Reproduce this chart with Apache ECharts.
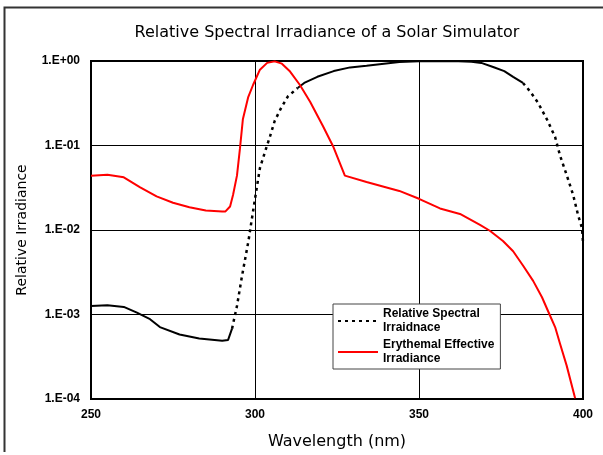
<!DOCTYPE html>
<html style="height: 100%">
<head>
<meta charset="utf-8">
</head>
<body style="height: 100%; margin: 0; width: 100%; background: #fff;">
<div id="container" style="height: 455px; width: 603px;"></div>
<script src="https://cdn.jsdelivr.net/npm/echarts@6/dist/echarts.min.js"></script>
<script type="text/javascript">
// wavelength (nm) and relative values
var blackWl = [250, 255, 260, 264, 268, 271, 277, 283, 290, 291.8, 293, 294.5, 296, 298, 299, 300, 301.5, 303, 304.6, 306,
    308, 310, 313, 315, 319, 324, 329, 334, 344, 350, 360, 366, 369, 372.6, 376, 378.7, 381.7, 383.8, 386.3, 389,
    391.5, 393, 395, 397, 398.5, 399.7, 400];
var blackVal = [0.00126, 0.00129, 0.00123, 0.00105, 0.00088, 0.00071, 0.00058, 0.00052, 0.00049, 0.0005, 0.00068, 0.00126, 0.0028, 0.0074, 0.0132, 0.0234, 0.054, 0.083, 0.129, 0.195,
    0.28, 0.38, 0.48, 0.55, 0.65, 0.76, 0.84, 0.88, 0.97, 0.99, 1.0, 0.98, 0.95, 0.85, 0.76, 0.65, 0.55, 0.44, 0.32, 0.204,
    0.126, 0.076, 0.045, 0.026, 0.015, 0.0105, 0.0072];

var redWl = [250, 255, 260, 265, 270, 275, 280, 285, 290, 291, 292.4, 293.3, 294.5, 295.4, 296.3, 297.9, 299.4, 301.5, 303.7, 306,
    308.2, 310.7, 313.7, 316.8, 320.7, 323.8, 327.4, 328, 334, 344, 350, 356.4, 362.5, 368.6, 371.6, 375.6, 378.7, 381.7, 384.8, 387.5,
    389.9, 391.5, 393, 395, 397.6];
var redVal = [0.044, 0.045, 0.042, 0.032, 0.025, 0.021, 0.0186, 0.017, 0.0166, 0.0166, 0.019, 0.026, 0.044, 0.091, 0.204, 0.37, 0.52, 0.79, 0.95, 0.99,
    0.93, 0.75, 0.52, 0.33, 0.17, 0.098, 0.044, 0.043, 0.037, 0.029, 0.0234, 0.018, 0.0155, 0.0115, 0.0098, 0.0074, 0.0056, 0.0038, 0.0025, 0.0016,
    0.00098, 0.00071, 0.00045, 0.00025, 0.000102];

var xTicks = [250, 300, 350, 400];

// steep parts of the black curve show up dashed, flat parts solid
function isDashed(w) { return (w >= 293 && w <= 313) || w >= 381.7; }
function isSolid(w) { return w <= 293 || (w >= 313 && w <= 381.7); }

var dashedData = blackWl.map(function (w, i) { return [w, isDashed(w) ? blackVal[i] : null]; });
var solidData = blackWl.map(function (w, i) { return [w, isSolid(w) ? blackVal[i] : null]; });
var redData = redWl.map(function (w, i) { return [w, redVal[i]]; });

var dom = document.getElementById("container");
var myChart = echarts.init(dom, null, {renderer: 'canvas'});

var option = {
    animation: false,
    backgroundColor: '#fff',
    title: {
        text: 'Relative Spectral Irradiance of a Solar Simulator',
        left: 322,
        top: 20,
        textAlign: 'center',
        textStyle: {fontFamily: 'DejaVu Sans', fontSize: 16, fontWeight: 'normal', color: '#000'}
    },
    graphic: [{
        type: 'polyline',
        silent: true,
        shape: {points: [[4.5, 452], [4.5, 7.5], [603, 7.5]]},
        style: {stroke: '#333', lineWidth: 2, fill: null}
    }],
    grid: {
        left: 91, right: 20, top: 61, bottom: 52,
        show: true, borderColor: '#000', borderWidth: 2, backgroundColor: 'transparent'
    },
    legend: {
        orient: 'vertical',
        left: 333,
        top: 304,
        padding: [3, 6, 3, 4],
        itemGap: 3,
        itemWidth: 40,
        itemHeight: 12,
        backgroundColor: '#fff',
        borderColor: '#444',
        borderWidth: 1,
        borderRadius: 0,
        itemStyle: {color: 'transparent', borderWidth: 0, opacity: 0},
        data: ['Relative Spectral\nIrraidnace', 'Erythemal Effective\nIrradiance'],
        textStyle: {fontFamily: 'Liberation Sans', fontSize: 12, fontWeight: 'bold', color: '#000', lineHeight: 14}
    },
    xAxis: {
        type: 'value',
        min: 250,
        max: 400,
        interval: 50,
        name: 'Wavelength (nm)',
        nameLocation: 'middle',
        nameGap: 35,
        nameTextStyle: {fontFamily: 'DejaVu Sans', fontSize: 16, color: '#000'},
        axisLine: {lineStyle: {color: '#000', width: 2}},
        axisTick: {show: false},
        axisLabel: {
            margin: 10, color: '#000', fontFamily: 'Liberation Sans', fontSize: 12, fontWeight: 'bold',
            customValues: xTicks
        },
        splitLine: {show: true, lineStyle: {color: '#000', width: 1}}
    },
    yAxis: {
        type: 'log',
        logBase: 10,
        min: 0.0001,
        max: 1,
        name: 'Relative Irradiance',
        nameLocation: 'middle',
        nameGap: 62,
        nameTextStyle: {fontFamily: 'DejaVu Sans', fontSize: 14, color: '#000'},
        axisLine: {lineStyle: {color: '#000', width: 2}},
        axisTick: {show: false},
        axisLabel: {
            margin: 11, color: '#000', fontFamily: 'Liberation Sans', fontSize: 12, fontWeight: 'bold',
            formatter: function (v) {
                var e = Math.round(Math.log10(v));
                return '1.E' + (e < 0 ? '-' : '+') + String(Math.abs(e)).padStart(2, '0');
            }
        },
        splitLine: {show: true, lineStyle: {color: '#000', width: 1}}
    },
    series: [
        {
            name: 'Relative Spectral (solid part)',
            type: 'line',
            data: solidData,
            symbol: 'none',
            connectNulls: false,
            lineStyle: {color: '#000', width: 2},
            itemStyle: {color: '#000'},
            z: 3
        },
        {
            name: 'Relative Spectral\nIrraidnace',
            type: 'line',
            data: dashedData,
            symbol: 'none',
            connectNulls: false,
            lineStyle: {color: '#000', width: 2.5, type: [3, 4]},
            itemStyle: {color: '#000'},
            z: 3
        },
        {
            name: 'Erythemal Effective\nIrradiance',
            type: 'line',
            data: redData,
            symbol: 'none',
            lineStyle: {color: '#ff0000', width: 2},
            itemStyle: {color: '#ff0000'},
            z: 4
        }
    ]
};

if (option && typeof option === "object") {
    myChart.setOption(option, true);
}
</script>
</body>
</html>
